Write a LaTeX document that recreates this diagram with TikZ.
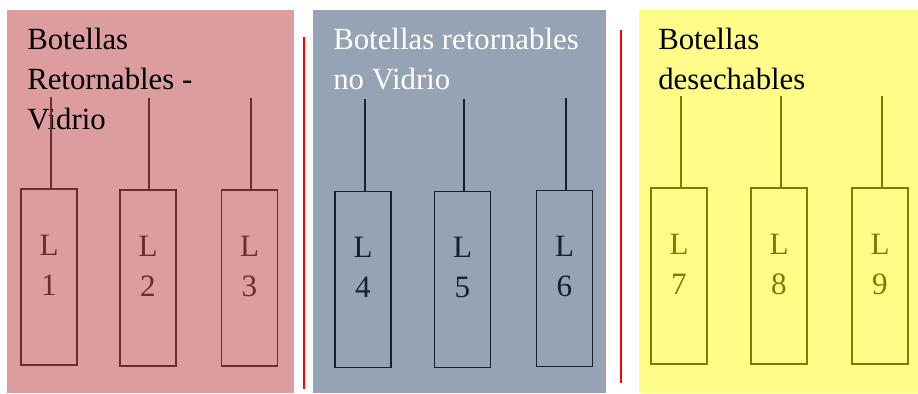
\documentclass[tikz,border=0pt]{standalone}
\usepackage{fontspec}
\setmainfont{Liberation Serif}
\definecolor{panelred}{RGB}{220,157,158}
\definecolor{edgered}{RGB}{110,42,44}
\definecolor{panelblue}{RGB}{149,163,181}
\definecolor{edgeblue}{RGB}{22,30,48}
\definecolor{panelyellow}{RGB}{255,252,136}
\definecolor{edgeyellow}{RGB}{128,122,0}
\tikzset{
	lote/.style={draw, line width=1.2pt, minimum width=42pt, minimum height=132pt, inner sep=0pt},
	lotetxt/.style={align=center, font=\fontsize{23.3}{30}\selectfont, yshift=9pt},
	titulo/.style={anchor=north west, inner sep=0pt, align=left, font=\fontsize{23.1}{30}\selectfont},
	tallo/.style={line width=1.2pt},
	separa/.style={red, line width=1.2pt}
}

\begin{document}
\begin{tikzpicture}[x=0.75pt, y=-0.75pt]
	\useasboundingbox (0,0) rectangle (918,393);
	% panels
	\fill[panelred] (7,10) rectangle (294,393);
	\fill[panelblue] (313,10) rectangle (606,393);
	\fill[panelyellow] (639,10) rectangle (918,393);
	\draw[separa] (304,37) -- (304,389);
	\draw[separa] (621,30) -- (621,383);
	% titles
	\node[titulo] (t1) at (27,28) {Botellas\\Retornables -\\Vidrio};
	\node[titulo, white] (t2) at (333,28) {Botellas retornables\\no Vidrio};
	\node[titulo] (t3) at (658,28) {Botellas\\desechables};
	% lines 1-3
	\node[lote, edgered, label={[lotetxt, edgered]center:L\\1}] (L1) at (49,277) {};
	\node[lote, edgered, label={[lotetxt, edgered]center:L\\2}] (L2) at (148,278) {};
	\node[lote, edgered, label={[lotetxt, edgered]center:L\\3}] (L3) at (249.5,278) {};
	\coordinate (c1) at (51,97);
	\coordinate (c2) at (149,98);
	\coordinate (c3) at (251,98);
	\draw[tallo, edgered] (c1) -- (c1 |- L1.north);
	\draw[tallo, edgered] (c2) -- (c2 |- L2.north);
	\draw[tallo, edgered] (c3) -- (c3 |- L3.north);
	% lines 4-6
	\node[lote, edgeblue, label={[lotetxt, edgeblue]center:L\\4}] (L4) at (363,279.5) {};
	\node[lote, edgeblue, label={[lotetxt, edgeblue]center:L\\5}] (L5) at (462.5,279.5) {};
	\node[lote, edgeblue, label={[lotetxt, edgeblue]center:L\\6}] (L6) at (564.5,278.5) {};
	\coordinate (c4) at (365,99);
	\coordinate (c5) at (464,99);
	\coordinate (c6) at (566,98);
	\draw[tallo, edgeblue] (c4) -- (c4 |- L4.north);
	\draw[tallo, edgeblue] (c5) -- (c5 |- L5.north);
	\draw[tallo, edgeblue] (c6) -- (c6 |- L6.north);
	% lines 7-9
	\node[lote, edgeyellow, label={[lotetxt, edgeyellow]center:L\\7}] (L7) at (679,276) {};
	\node[lote, edgeyellow, label={[lotetxt, edgeyellow]center:L\\8}] (L8) at (779,276) {};
	\node[lote, edgeyellow, label={[lotetxt, edgeyellow]center:L\\9}] (L9) at (880,276) {};
	\coordinate (c7) at (681,96);
	\coordinate (c8) at (781,96);
	\coordinate (c9) at (882,96);
	\draw[tallo, edgeyellow] (c7) -- (c7 |- L7.north);
	\draw[tallo, edgeyellow] (c8) -- (c8 |- L8.north);
	\draw[tallo, edgeyellow] (c9) -- (c9 |- L9.north);
\end{tikzpicture}
\end{document}
